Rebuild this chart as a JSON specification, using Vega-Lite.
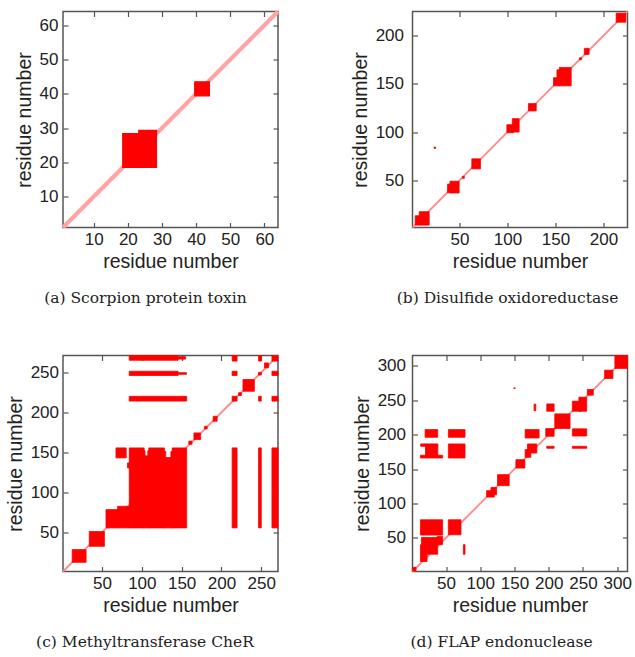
{
  "$schema": "https://vega.github.io/schema/vega-lite/v6.json",
  "background": "white",
  "padding": {"left": 4, "top": 8.5, "right": 5, "bottom": 5},
  "config": {
    "view": {"stroke": "#555555", "strokeWidth": 1.5},
    "font": "Liberation Sans",
    "axis": {
      "grid": false, "domain": false, "tickColor": "#555555", "tickSize": -5, "tickWidth": 1.2,
      "labelFont": "Liberation Sans", "labelFontSize": 17, "labelColor": "#222222", "labelPadding": 8.5,
      "titleFont": "Liberation Sans", "titleFontSize": 19.5, "titleFontWeight": "normal", "titleColor": "#222222", "titlePadding": 5
    },
    "title": {"orient": "bottom", "font": "DejaVu Serif", "fontSize": 15.5, "letterSpacing": 0.5, "fontWeight": "normal", "color": "#222222", "anchor": "middle", "frame": "group", "offset": 20}
  },
  "datasets": {
    "a_rect": [
      {"x": 18.5, "x2": 23.6, "y": 18.5, "y2": 28.4},
      {"x": 23.2, "x2": 28.4, "y": 18.5, "y2": 29.3},
      {"x": 39.6, "x2": 43.9, "y": 39.4, "y2": 43.5}
    ],
    "a_diag": [{"x": 1, "x2": 64, "y": 1, "y2": 64}],
    "b_rect": [
      {"x": 3.8, "x2": 8.5, "y": 3.5, "y2": 13.2},
      {"x": 8, "x2": 18.4, "y": 3.5, "y2": 17.4},
      {"x": 37.5, "x2": 41, "y": 37, "y2": 46},
      {"x": 40, "x2": 49.6, "y": 36.8, "y2": 49},
      {"x": 62.8, "x2": 71.8, "y": 61.8, "y2": 72.2},
      {"x": 99.3, "x2": 106.2, "y": 99.3, "y2": 107.6},
      {"x": 105, "x2": 112.1, "y": 100, "y2": 113.9},
      {"x": 121.8, "x2": 129.9, "y": 121.9, "y2": 129.5},
      {"x": 147.9, "x2": 155, "y": 147.9, "y2": 156.3},
      {"x": 151.5, "x2": 156, "y": 155, "y2": 164.5},
      {"x": 154, "x2": 166.3, "y": 147.9, "y2": 167},
      {"x": 180, "x2": 185, "y": 180.5, "y2": 186.8},
      {"x": 175, "x2": 177, "y": 175, "y2": 177},
      {"x": 213.2, "x2": 223.3, "y": 213.9, "y2": 223.3},
      {"x": 23.5, "x2": 25, "y": 83, "y2": 84.5},
      {"x": 53, "x2": 55, "y": 52, "y2": 54}
    ],
    "b_diag": [{"x": 1, "x2": 225, "y": 1, "y2": 225}],
    "c_rect": [
      {"x": 12.5, "x2": 30, "y": 12.5, "y2": 28.4},
      {"x": 34, "x2": 53, "y": 32.5, "y2": 51},
      {"x": 55, "x2": 70, "y": 55.5, "y2": 78.4},
      {"x": 69.6, "x2": 84.6, "y": 55.5, "y2": 82.5},
      {"x": 84.2, "x2": 102.9, "y": 55.5, "y2": 155.5},
      {"x": 102.2, "x2": 109.4, "y": 55.5, "y2": 145.5},
      {"x": 108.7, "x2": 128.4, "y": 55.5, "y2": 155.5},
      {"x": 127.7, "x2": 138.8, "y": 55.5, "y2": 143.5},
      {"x": 138.1, "x2": 156.3, "y": 55.5, "y2": 155.5},
      {"x": 101, "x2": 104, "y": 145, "y2": 152},
      {"x": 107.5, "x2": 110.5, "y": 145, "y2": 152},
      {"x": 126.5, "x2": 130, "y": 143, "y2": 151},
      {"x": 136.5, "x2": 140, "y": 143, "y2": 151},
      {"x": 67.5, "x2": 80.4, "y": 143, "y2": 155.5},
      {"x": 82, "x2": 85, "y": 130.5, "y2": 136.7},
      {"x": 84.2, "x2": 145.5, "y": 265, "y2": 271},
      {"x": 145, "x2": 155, "y": 266.5, "y2": 269.5},
      {"x": 84.2, "x2": 145.5, "y": 246, "y2": 251.3},
      {"x": 145, "x2": 156, "y": 247.5, "y2": 249.5},
      {"x": 84.2, "x2": 156.3, "y": 214, "y2": 220},
      {"x": 213.4, "x2": 219.6, "y": 55.5, "y2": 155.5},
      {"x": 246.6, "x2": 250, "y": 55.5, "y2": 155.5},
      {"x": 263.4, "x2": 271, "y": 55.5, "y2": 155.5},
      {"x": 213.4, "x2": 219.6, "y": 264, "y2": 271},
      {"x": 213.4, "x2": 219.6, "y": 246, "y2": 251.3},
      {"x": 213.4, "x2": 219.6, "y": 214, "y2": 220},
      {"x": 246.6, "x2": 250, "y": 264, "y2": 271},
      {"x": 246.6, "x2": 250, "y": 214, "y2": 220},
      {"x": 263.4, "x2": 271, "y": 246, "y2": 251.3},
      {"x": 263.4, "x2": 271, "y": 214, "y2": 220},
      {"x": 263.4, "x2": 271, "y": 264, "y2": 271},
      {"x": 227, "x2": 241.3, "y": 226.3, "y2": 241},
      {"x": 221.5, "x2": 225, "y": 221, "y2": 224.5},
      {"x": 189.6, "x2": 194.6, "y": 188.8, "y2": 195},
      {"x": 178.8, "x2": 182, "y": 179.2, "y2": 182.5},
      {"x": 165.4, "x2": 173.8, "y": 165.9, "y2": 174.2},
      {"x": 159, "x2": 163, "y": 160, "y2": 164},
      {"x": 254, "x2": 259, "y": 255.5, "y2": 261.7},
      {"x": 246.5, "x2": 250, "y": 246.5, "y2": 250}
    ],
    "c_diag": [{"x": 1, "x2": 271, "y": 1, "y2": 271}],
    "d_rect": [
      {"x": 296.6, "x2": 315, "y": 296.2, "y2": 315},
      {"x": 281.6, "x2": 293.7, "y": 281.6, "y2": 293.7},
      {"x": 256.3, "x2": 265, "y": 257.3, "y2": 265.6},
      {"x": 234.5, "x2": 247, "y": 234, "y2": 248.6},
      {"x": 244, "x2": 255.4, "y": 234, "y2": 254.4},
      {"x": 208.8, "x2": 231.1, "y": 208.8, "y2": 230.1},
      {"x": 197.1, "x2": 207.8, "y": 234, "y2": 244.6},
      {"x": 195.6, "x2": 207.8, "y": 197.6, "y2": 208.8},
      {"x": 234.5, "x2": 255.4, "y": 198, "y2": 208.4},
      {"x": 197.1, "x2": 207.8, "y": 180.1, "y2": 183},
      {"x": 234.5, "x2": 255.4, "y": 180.1, "y2": 183},
      {"x": 178.6, "x2": 181.1, "y": 234.7, "y2": 244.3},
      {"x": 165.5, "x2": 185.9, "y": 195.1, "y2": 207.3},
      {"x": 168.9, "x2": 182.6, "y": 173.3, "y2": 186.4},
      {"x": 165.5, "x2": 173.8, "y": 167, "y2": 178.2},
      {"x": 152, "x2": 165.1, "y": 151.4, "y2": 163.6},
      {"x": 125.2, "x2": 142.2, "y": 125.8, "y2": 141.8},
      {"x": 109.2, "x2": 120.4, "y": 109.2, "y2": 118.5},
      {"x": 115.6, "x2": 123.8, "y": 112.6, "y2": 123.3},
      {"x": 53.4, "x2": 71.8, "y": 54.4, "y2": 76.2},
      {"x": 12.6, "x2": 45, "y": 54, "y2": 76.2},
      {"x": 14, "x2": 37.8, "y": 26.1, "y2": 50.4},
      {"x": 12.6, "x2": 22.3, "y": 15.5, "y2": 39.8},
      {"x": 37, "x2": 45, "y": 40, "y2": 52},
      {"x": 1.3, "x2": 6.2, "y": 1.9, "y2": 7.2},
      {"x": 19.4, "x2": 37.8, "y": 196.1, "y2": 207.3},
      {"x": 53.4, "x2": 77.7, "y": 196.1, "y2": 207.3},
      {"x": 53.4, "x2": 77.7, "y": 166, "y2": 186.4},
      {"x": 13, "x2": 38, "y": 183, "y2": 186.5},
      {"x": 20, "x2": 38, "y": 168, "y2": 184},
      {"x": 12.6, "x2": 45, "y": 166, "y2": 170},
      {"x": 75.3, "x2": 77.7, "y": 26, "y2": 40},
      {"x": 149, "x2": 151, "y": 267, "y2": 268}
    ],
    "d_diag": [{"x": 1, "x2": 315, "y": 1, "y2": 315}]
  },
  "columns": 2,
  "bounds": "flush",
  "spacing": {"row": 128, "column": 134.5},
  "concat": [
    {
      "width": 215, "height": 216,
      "title": {"text": "(a) Scorpion protein toxin", "dx": -25},
      "resolve": {"axis": {"x": "independent", "y": "independent"}},
      "layer": [
        {
          "data": {"name": "a_diag"},
          "mark": {"type": "rule", "color": "#ffa3a3", "strokeWidth": 4.2},
          "encoding": {
            "x": {"field": "x", "type": "quantitative", "scale": {"domain": [1, 64], "nice": false, "zero": false}, "axis": {"orient": "top", "labels": false, "title": null, "values": [10, 20, 30, 40, 50, 60]}},
            "x2": {"field": "x2"},
            "y": {"field": "y", "type": "quantitative", "scale": {"domain": [1, 64], "nice": false, "zero": false}, "axis": {"orient": "right", "labels": false, "title": null, "values": [10, 20, 30, 40, 50, 60]}},
            "y2": {"field": "y2"}
          }
        },
        {
          "data": {"name": "a_rect"},
          "mark": {"type": "rect", "color": "#ff0000", "stroke": "#ff0000", "strokeWidth": 1.2},
          "encoding": {
            "x": {"field": "x", "type": "quantitative", "axis": {"orient": "bottom", "title": "residue number", "values": [10, 20, 30, 40, 50, 60]}},
            "x2": {"field": "x2"},
            "y": {"field": "y", "type": "quantitative", "axis": {"orient": "left", "title": "residue number", "values": [10, 20, 30, 40, 50, 60], "labelPadding": 10}},
            "y2": {"field": "y2"}
          }
        }
      ]
    },
    {
      "width": 215, "height": 216,
      "title": {"text": "(b) Disulfide oxidoreductase", "dx": -12.5},
      "resolve": {"axis": {"x": "independent", "y": "independent"}},
      "layer": [
        {
          "data": {"name": "b_diag"},
          "mark": {"type": "rule", "color": "#ff8a8a", "strokeWidth": 1.8},
          "encoding": {
            "x": {"field": "x", "type": "quantitative", "scale": {"domain": [1, 225], "nice": false, "zero": false}, "axis": {"orient": "top", "labels": false, "title": null, "values": [50, 100, 150, 200]}},
            "x2": {"field": "x2"},
            "y": {"field": "y", "type": "quantitative", "scale": {"domain": [1, 225], "nice": false, "zero": false}, "axis": {"orient": "right", "labels": false, "title": null, "values": [50, 100, 150, 200]}},
            "y2": {"field": "y2"}
          }
        },
        {
          "data": {"name": "b_rect"},
          "mark": {"type": "rect", "color": "#ff0000", "stroke": "#ff0000", "strokeWidth": 0.8},
          "encoding": {
            "x": {"field": "x", "type": "quantitative", "axis": {"orient": "bottom", "title": "residue number", "values": [50, 100, 150, 200]}},
            "x2": {"field": "x2"},
            "y": {"field": "y", "type": "quantitative", "axis": {"orient": "left", "title": "residue number", "values": [50, 100, 150, 200], "labelPadding": 14}},
            "y2": {"field": "y2"}
          }
        }
      ]
    },
    {
      "width": 215, "height": 216,
      "title": {"text": "(c) Methyltransferase CheR", "dx": -25.5},
      "resolve": {"axis": {"x": "independent", "y": "independent"}},
      "layer": [
        {
          "data": {"name": "c_diag"},
          "mark": {"type": "rule", "color": "#ff8a8a", "strokeWidth": 1.8},
          "encoding": {
            "x": {"field": "x", "type": "quantitative", "scale": {"domain": [1, 271], "nice": false, "zero": false}, "axis": {"orient": "top", "labels": false, "title": null, "values": [50, 100, 150, 200, 250]}},
            "x2": {"field": "x2"},
            "y": {"field": "y", "type": "quantitative", "scale": {"domain": [1, 271], "nice": false, "zero": false}, "axis": {"orient": "right", "labels": false, "title": null, "values": [50, 100, 150, 200, 250]}},
            "y2": {"field": "y2"}
          }
        },
        {
          "data": {"name": "c_rect"},
          "mark": {"type": "rect", "color": "#ff0000", "stroke": "#ff0000", "strokeWidth": 0.8},
          "encoding": {
            "x": {"field": "x", "type": "quantitative", "axis": {"orient": "bottom", "title": "residue number", "values": [50, 100, 150, 200, 250]}},
            "x2": {"field": "x2"},
            "y": {"field": "y", "type": "quantitative", "axis": {"orient": "left", "title": "residue number", "values": [50, 100, 150, 200, 250], "labelPadding": 9.5}},
            "y2": {"field": "y2"}
          }
        }
      ]
    },
    {
      "width": 215, "height": 216,
      "title": {"text": "(d) FLAP endonuclease", "dx": -18.5},
      "resolve": {"axis": {"x": "independent", "y": "independent"}},
      "layer": [
        {
          "data": {"name": "d_diag"},
          "mark": {"type": "rule", "color": "#ff8a8a", "strokeWidth": 1.8},
          "encoding": {
            "x": {"field": "x", "type": "quantitative", "scale": {"domain": [1, 315], "nice": false, "zero": false}, "axis": {"orient": "top", "labels": false, "title": null, "values": [50, 100, 150, 200, 250, 300]}},
            "x2": {"field": "x2"},
            "y": {"field": "y", "type": "quantitative", "scale": {"domain": [1, 315], "nice": false, "zero": false}, "axis": {"orient": "right", "labels": false, "title": null, "values": [50, 100, 150, 200, 250, 300]}},
            "y2": {"field": "y2"}
          }
        },
        {
          "data": {"name": "d_rect"},
          "mark": {"type": "rect", "color": "#ff0000", "stroke": "#ff0000", "strokeWidth": 0.8},
          "encoding": {
            "x": {"field": "x", "type": "quantitative", "axis": {"orient": "bottom", "title": "residue number", "values": [50, 100, 150, 200, 250, 300]}},
            "x2": {"field": "x2"},
            "y": {"field": "y", "type": "quantitative", "axis": {"orient": "left", "title": "residue number", "values": [50, 100, 150, 200, 250, 300], "labelPadding": 12}},
            "y2": {"field": "y2"}
          }
        }
      ]
    }
  ]
}
